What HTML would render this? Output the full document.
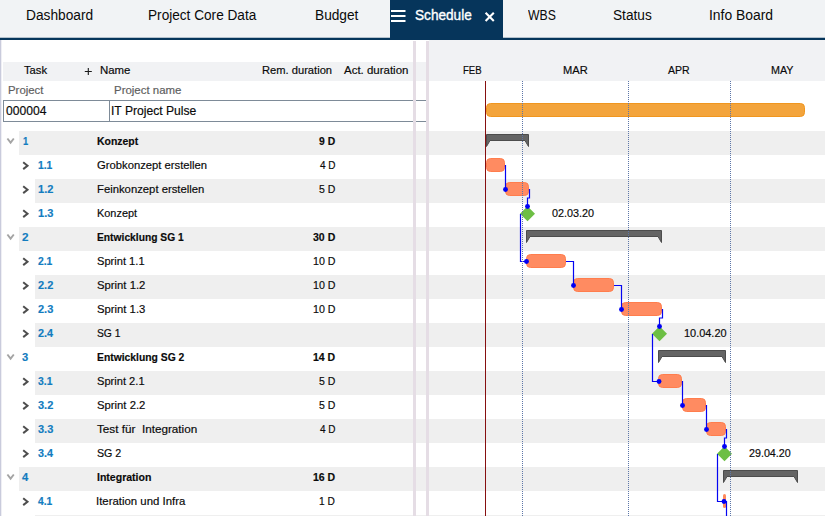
<!DOCTYPE html><html><head><meta charset="utf-8"><title>Schedule</title><style>
*{box-sizing:border-box;margin:0;padding:0}
html,body{width:825px;height:516px;overflow:hidden;background:#fff}
body{position:relative;font-family:"Liberation Sans",sans-serif;font-size:11.5px;color:#0a0a0a}
.a{position:absolute;white-space:pre}
.t{line-height:16px;transform-origin:0 0;-webkit-text-stroke:0.18px currentColor}
.tabbar{left:0;top:0;width:825px;height:38px;background:#f1f3f5}
.tabline{left:0;top:38px;width:825px;height:2px;background:#06355b}
.tabact{left:390px;top:0;width:113px;height:40px;background:#06355b}
.strip{background:#e5dde5;top:41px;height:475px}
.hdr{background:#f1f2f4}
.g{background:#efefef;height:24px}
</style></head><body>
<div class="a tabbar"></div><div class="a" style="left:0;top:37px;width:825px;height:1px;background:#b4c1cc"></div><div class="a tabline"></div><div class="a tabact"></div>
<svg class="a" style="left:390px;top:0" width="113" height="40" viewBox="0 0 113 40"><g stroke="#fff" fill="none"><path d="M1 11h14.5M1 16h14.5M1 21h14.5" stroke-width="1.9"/><path d="M95.6 12.7l8.2 8.2M103.8 12.7l-8.2 8.2" stroke-width="2.1"/></g></svg>
<div class="a" style="left:0;top:40px;width:1px;height:476px;background:#c9cbdc"></div><div class="a" style="left:1px;top:40px;width:1px;height:476px;background:#efeff4"></div>
<div class="a hdr" style="left:3px;top:62px;width:423px;height:19px"></div>
<div class="a hdr" style="left:429px;top:40px;width:396px;height:41px"></div>
<div class="a g" style="left:19px;top:131px;width:407px"></div>
<div class="a g" style="left:429px;top:131px;width:396px"></div>
<div class="a g" style="left:35px;top:179px;width:391px"></div>
<div class="a g" style="left:429px;top:179px;width:396px"></div>
<div class="a g" style="left:19px;top:227px;width:407px"></div>
<div class="a g" style="left:429px;top:227px;width:396px"></div>
<div class="a g" style="left:35px;top:275px;width:391px"></div>
<div class="a g" style="left:429px;top:275px;width:396px"></div>
<div class="a g" style="left:35px;top:323px;width:391px"></div>
<div class="a g" style="left:429px;top:323px;width:396px"></div>
<div class="a g" style="left:35px;top:371px;width:391px"></div>
<div class="a g" style="left:429px;top:371px;width:396px"></div>
<div class="a g" style="left:35px;top:419px;width:391px"></div>
<div class="a g" style="left:429px;top:419px;width:396px"></div>
<div class="a g" style="left:19px;top:467px;width:407px"></div>
<div class="a g" style="left:429px;top:467px;width:396px"></div>
<div class="a g" style="left:35px;top:515px;width:391px;height:1px"></div><div class="a g" style="left:429px;top:515px;width:396px;height:1px"></div>
<div class="a" style="left:3px;top:100px;width:423px;height:22px;border:1px solid #7e8b98;border-right:none;background:#fff"></div>
<div class="a" style="left:109px;top:100px;width:1px;height:22px;background:#7e8b98"></div>
<div class="a strip" style="left:413px;width:3px"></div><div class="a strip" style="left:426px;width:3px"></div>
<svg class="a" style="left:84px;top:67px" width="9" height="9" viewBox="0 0 9 9"><path d="M4.3 1v7M0.8 4.5h7" stroke="#1a1a1a" stroke-width="1.1" fill="none"/></svg>
<div class="a t" id="tab0" style="left:25.89px;top:8.02px;transform:scaleX(0.9939);font-size:13.8px;-webkit-text-stroke:0;">Dashboard</div>
<div class="a t" id="tab1" style="left:148.31px;top:8.02px;transform:scaleX(0.9876);font-size:13.8px;-webkit-text-stroke:0;">Project Core Data</div>
<div class="a t" id="tab2" style="left:314.89px;top:8.02px;transform:scaleX(0.9926);font-size:13.8px;-webkit-text-stroke:0;">Budget</div>
<div class="a t" id="tab3" style="left:415.10px;top:8.02px;transform:scaleX(0.9872);font-size:13.8px;color:#fff;-webkit-text-stroke:0.35px #fff;">Schedule</div>
<div class="a t" id="tab4" style="left:528.34px;top:8.02px;transform:scaleX(0.8881);font-size:13.8px;-webkit-text-stroke:0;">WBS</div>
<div class="a t" id="tab5" style="left:613.49px;top:8.02px;transform:scaleX(0.9898);font-size:13.8px;-webkit-text-stroke:0;">Status</div>
<div class="a t" id="tab6" style="left:708.80px;top:8.02px;transform:scaleX(1.0068);font-size:13.8px;-webkit-text-stroke:0;">Info Board</div>
<div class="a t" id="hTask" style="left:24.26px;top:62.02px;transform:scaleX(0.9763);">Task</div>
<div class="a t" id="hName" style="left:99.77px;top:62.02px;transform:scaleX(0.9927);">Name</div>
<div class="a t" id="hRem" style="left:261.91px;top:62.02px;transform:scaleX(0.9698);">Rem. duration</div>
<div class="a t" id="hAct" style="left:344.08px;top:62.02px;transform:scaleX(0.9976);">Act. duration</div>
<div class="a t" id="lProj" style="left:7.51px;top:82.02px;transform:scaleX(0.9896);color:#5e5e5e;">Project</div>
<div class="a t" id="lPname" style="left:113.60px;top:82.02px;transform:scaleX(0.9962);color:#5e5e5e;">Project name</div>
<div class="a t" id="vProj" style="left:6.33px;top:103.24px;transform:scaleX(0.9842);font-size:12.3px;">000004</div>
<div class="a t" id="vPname" style="left:111.27px;top:103.24px;transform:scaleX(0.9853);font-size:12.3px;">IT Project Pulse</div>
<div class="a t" id="mon0" style="left:462.79px;top:62.02px;transform:scaleX(0.8332);">FEB</div>
<div class="a t" id="mon1" style="left:562.79px;top:62.02px;transform:scaleX(0.9660);">MAR</div>
<div class="a t" id="mon2" style="left:668.04px;top:62.02px;transform:scaleX(0.9161);">APR</div>
<div class="a t" id="mon3" style="left:770.85px;top:62.02px;transform:scaleX(0.9328);">MAY</div>
<div class="a t" id="n0" style="left:22.99px;top:133.12px;transform:scaleX(0.8124);font-weight:bold;color:#127cbf;">1</div>
<div class="a t" id="r0" style="left:96.57px;top:133.12px;transform:scaleX(0.9093);font-weight:bold;">Konzept</div>
<div class="a t" id="d0" style="left:319.15px;top:133.12px;transform:scaleX(0.8998);font-weight:bold;">9 D</div>
<div class="a t" id="n1" style="left:38.13px;top:157.12px;transform:scaleX(0.8969);font-weight:bold;color:#127cbf;">1.1</div>
<div class="a t" id="r1" style="left:97.39px;top:157.12px;transform:scaleX(0.9786);">Grobkonzept erstellen</div>
<div class="a t" id="d1" style="left:319.71px;top:157.12px;transform:scaleX(0.8694);">4 D</div>
<div class="a t" id="n2" style="left:37.61px;top:181.12px;transform:scaleX(0.9611);font-weight:bold;color:#127cbf;">1.2</div>
<div class="a t" id="r2" style="left:96.79px;top:181.12px;transform:scaleX(0.9823);">Feinkonzept erstellen</div>
<div class="a t" id="d2" style="left:319.35px;top:181.12px;transform:scaleX(0.9146);">5 D</div>
<div class="a t" id="n3" style="left:37.61px;top:205.12px;transform:scaleX(0.9611);font-weight:bold;color:#127cbf;">1.3</div>
<div class="a t" id="r3" style="left:96.83px;top:205.12px;transform:scaleX(0.9506);">Konzept</div>
<div class="a t" id="n4" style="left:22.14px;top:229.12px;transform:scaleX(1.0115);font-weight:bold;color:#127cbf;">2</div>
<div class="a t" id="r4" style="left:96.93px;top:229.12px;transform:scaleX(0.8928);font-weight:bold;">Entwicklung SG 1</div>
<div class="a t" id="d4" style="left:312.96px;top:229.12px;transform:scaleX(0.9151);font-weight:bold;">30 D</div>
<div class="a t" id="n5" style="left:38.02px;top:253.12px;transform:scaleX(0.8979);font-weight:bold;color:#127cbf;">2.1</div>
<div class="a t" id="r5" style="left:96.77px;top:253.12px;transform:scaleX(0.9662);">Sprint 1.1</div>
<div class="a t" id="d5" style="left:312.93px;top:253.12px;transform:scaleX(0.9276);">10 D</div>
<div class="a t" id="n6" style="left:38.16px;top:277.12px;transform:scaleX(0.9556);font-weight:bold;color:#127cbf;">2.2</div>
<div class="a t" id="r6" style="left:96.62px;top:277.12px;transform:scaleX(0.9820);">Sprint 1.2</div>
<div class="a t" id="d6" style="left:312.93px;top:277.12px;transform:scaleX(0.9276);">10 D</div>
<div class="a t" id="n7" style="left:38.16px;top:301.12px;transform:scaleX(0.9556);font-weight:bold;color:#127cbf;">2.3</div>
<div class="a t" id="r7" style="left:96.62px;top:301.12px;transform:scaleX(0.9814);">Sprint 1.3</div>
<div class="a t" id="d7" style="left:312.93px;top:301.12px;transform:scaleX(0.9276);">10 D</div>
<div class="a t" id="n8" style="left:37.99px;top:325.12px;transform:scaleX(0.9406);font-weight:bold;color:#127cbf;">2.4</div>
<div class="a t" id="r8" style="left:96.95px;top:325.12px;transform:scaleX(0.8950);">SG 1</div>
<div class="a t" id="n9" style="left:21.80px;top:349.12px;transform:scaleX(0.9697);font-weight:bold;color:#127cbf;">3</div>
<div class="a t" id="r9" style="left:96.78px;top:349.12px;transform:scaleX(0.8995);font-weight:bold;">Entwicklung SG 2</div>
<div class="a t" id="d9" style="left:313.11px;top:349.12px;transform:scaleX(0.9146);font-weight:bold;">14 D</div>
<div class="a t" id="n10" style="left:38.11px;top:373.12px;transform:scaleX(0.8996);font-weight:bold;color:#127cbf;">3.1</div>
<div class="a t" id="r10" style="left:96.77px;top:373.12px;transform:scaleX(0.9662);">Sprint 2.1</div>
<div class="a t" id="d10" style="left:319.35px;top:373.12px;transform:scaleX(0.9146);">5 D</div>
<div class="a t" id="n11" style="left:38.22px;top:397.12px;transform:scaleX(0.9568);font-weight:bold;color:#127cbf;">3.2</div>
<div class="a t" id="r11" style="left:96.62px;top:397.12px;transform:scaleX(0.9820);">Sprint 2.2</div>
<div class="a t" id="d11" style="left:319.35px;top:397.12px;transform:scaleX(0.9146);">5 D</div>
<div class="a t" id="n12" style="left:38.22px;top:421.12px;transform:scaleX(0.9568);font-weight:bold;color:#127cbf;">3.3</div>
<div class="a t" id="r12" style="left:97.41px;top:421.12px;transform:scaleX(1.0182);">Test für  Integration</div>
<div class="a t" id="d12" style="left:319.71px;top:421.12px;transform:scaleX(0.8694);">4 D</div>
<div class="a t" id="n13" style="left:38.10px;top:445.12px;transform:scaleX(0.9352);font-weight:bold;color:#127cbf;">3.4</div>
<div class="a t" id="r13" style="left:96.54px;top:445.12px;transform:scaleX(0.9274);">SG 2</div>
<div class="a t" id="n14" style="left:21.98px;top:469.12px;transform:scaleX(0.9735);font-weight:bold;color:#127cbf;">4</div>
<div class="a t" id="r14" style="left:96.71px;top:469.12px;transform:scaleX(0.9154);font-weight:bold;">Integration</div>
<div class="a t" id="d14" style="left:313.11px;top:469.12px;transform:scaleX(0.9146);font-weight:bold;">16 D</div>
<div class="a t" id="n15" style="left:38.25px;top:493.12px;transform:scaleX(0.8922);font-weight:bold;color:#127cbf;">4.1</div>
<div class="a t" id="r15" style="left:96.41px;top:493.12px;transform:scaleX(0.9905);">Iteration und Infra</div>
<div class="a t" id="d15" style="left:319.22px;top:493.12px;transform:scaleX(0.8871);">1 D</div>
<div class="a t" id="ms0" style="left:551.55px;top:205.12px;transform:scaleX(0.9408);">02.03.20</div>
<div class="a t" id="ms1" style="left:683.94px;top:325.12px;transform:scaleX(0.9509);">10.04.20</div>
<div class="a t" id="ms2" style="left:749.34px;top:445.12px;transform:scaleX(0.9324);">29.04.20</div>
<svg class="a" style="left:5px;top:136px" width="12" height="12" viewBox="0 0 12 12"><path d="M2.4 2.5L5.6 6.6L8.8 2.5" fill="none" stroke="#a4a4a4" stroke-width="1.9"/></svg>
<svg class="a" style="left:20px;top:160px" width="12" height="12" viewBox="0 0 12 12"><path d="M3.2 2.3L7.5 5.7L3.2 9.1" fill="none" stroke="#4e4e4e" stroke-width="2"/></svg>
<svg class="a" style="left:20px;top:184px" width="12" height="12" viewBox="0 0 12 12"><path d="M3.2 2.3L7.5 5.7L3.2 9.1" fill="none" stroke="#4e4e4e" stroke-width="2"/></svg>
<svg class="a" style="left:20px;top:208px" width="12" height="12" viewBox="0 0 12 12"><path d="M3.2 2.3L7.5 5.7L3.2 9.1" fill="none" stroke="#4e4e4e" stroke-width="2"/></svg>
<svg class="a" style="left:5px;top:232px" width="12" height="12" viewBox="0 0 12 12"><path d="M2.4 2.5L5.6 6.6L8.8 2.5" fill="none" stroke="#a4a4a4" stroke-width="1.9"/></svg>
<svg class="a" style="left:20px;top:256px" width="12" height="12" viewBox="0 0 12 12"><path d="M3.2 2.3L7.5 5.7L3.2 9.1" fill="none" stroke="#4e4e4e" stroke-width="2"/></svg>
<svg class="a" style="left:20px;top:280px" width="12" height="12" viewBox="0 0 12 12"><path d="M3.2 2.3L7.5 5.7L3.2 9.1" fill="none" stroke="#4e4e4e" stroke-width="2"/></svg>
<svg class="a" style="left:20px;top:304px" width="12" height="12" viewBox="0 0 12 12"><path d="M3.2 2.3L7.5 5.7L3.2 9.1" fill="none" stroke="#4e4e4e" stroke-width="2"/></svg>
<svg class="a" style="left:20px;top:328px" width="12" height="12" viewBox="0 0 12 12"><path d="M3.2 2.3L7.5 5.7L3.2 9.1" fill="none" stroke="#4e4e4e" stroke-width="2"/></svg>
<svg class="a" style="left:5px;top:352px" width="12" height="12" viewBox="0 0 12 12"><path d="M2.4 2.5L5.6 6.6L8.8 2.5" fill="none" stroke="#a4a4a4" stroke-width="1.9"/></svg>
<svg class="a" style="left:20px;top:376px" width="12" height="12" viewBox="0 0 12 12"><path d="M3.2 2.3L7.5 5.7L3.2 9.1" fill="none" stroke="#4e4e4e" stroke-width="2"/></svg>
<svg class="a" style="left:20px;top:400px" width="12" height="12" viewBox="0 0 12 12"><path d="M3.2 2.3L7.5 5.7L3.2 9.1" fill="none" stroke="#4e4e4e" stroke-width="2"/></svg>
<svg class="a" style="left:20px;top:424px" width="12" height="12" viewBox="0 0 12 12"><path d="M3.2 2.3L7.5 5.7L3.2 9.1" fill="none" stroke="#4e4e4e" stroke-width="2"/></svg>
<svg class="a" style="left:20px;top:448px" width="12" height="12" viewBox="0 0 12 12"><path d="M3.2 2.3L7.5 5.7L3.2 9.1" fill="none" stroke="#4e4e4e" stroke-width="2"/></svg>
<svg class="a" style="left:5px;top:472px" width="12" height="12" viewBox="0 0 12 12"><path d="M2.4 2.5L5.6 6.6L8.8 2.5" fill="none" stroke="#a4a4a4" stroke-width="1.9"/></svg>
<svg class="a" style="left:20px;top:496px" width="12" height="12" viewBox="0 0 12 12"><path d="M3.2 2.3L7.5 5.7L3.2 9.1" fill="none" stroke="#4e4e4e" stroke-width="2"/></svg>
<svg class="a" style="left:0;top:0" width="825" height="516" viewBox="0 0 825 516"><rect x="485" y="81" width="1" height="435" fill="#860f10"/><rect x="486.5" y="103.5" width="318" height="13" rx="4" fill="#f3a43c" stroke="#f0961f" stroke-width="1"/><path d="M486.5 134.5H528.5V146.5L525 140.5H490L486.5 146.5Z" fill="#646464" stroke="#4c4c4c" stroke-width="1" stroke-linejoin="miter"/><path d="M526.5 230.5H661.5V242.5L658 236.5H530L526.5 242.5Z" fill="#646464" stroke="#4c4c4c" stroke-width="1" stroke-linejoin="miter"/><path d="M658.5 350.5H725.5V362.5L722 356.5H662L658.5 362.5Z" fill="#646464" stroke="#4c4c4c" stroke-width="1" stroke-linejoin="miter"/><path d="M723.5 470.5H797.5V482.5L794 476.5H727L723.5 482.5Z" fill="#646464" stroke="#4c4c4c" stroke-width="1" stroke-linejoin="miter"/><rect x="486.5" y="158.5" width="18" height="13" rx="4" fill="#ff8b61" stroke="#ff7d4d" stroke-width="1"/><rect x="505.5" y="182.5" width="23" height="13" rx="4" fill="#ff8b61" stroke="#ff7d4d" stroke-width="1"/><rect x="526.5" y="254.5" width="39" height="13" rx="4" fill="#ff8b61" stroke="#ff7d4d" stroke-width="1"/><rect x="573.5" y="278.5" width="40" height="13" rx="4" fill="#ff8b61" stroke="#ff7d4d" stroke-width="1"/><rect x="621.5" y="302.5" width="40" height="13" rx="4" fill="#ff8b61" stroke="#ff7d4d" stroke-width="1"/><rect x="658.5" y="374.5" width="23" height="13" rx="4" fill="#ff8b61" stroke="#ff7d4d" stroke-width="1"/><rect x="682.5" y="398.5" width="23" height="13" rx="4" fill="#ff8b61" stroke="#ff7d4d" stroke-width="1"/><rect x="706.5" y="422.5" width="19" height="13" rx="4" fill="#ff8b61" stroke="#ff7d4d" stroke-width="1"/><rect x="723" y="494" width="3" height="14" rx="1.5" fill="#ff8a5c"/><path d="M527.5 206.3L535.0 213.8L527.5 221.3L520.0 213.8Z" fill="#6dbf44"/><path d="M659.5 326.3L667.0 333.8L659.5 341.3L652.0 333.8Z" fill="#6dbf44"/><path d="M724.5 446.3L732.0 453.8L724.5 461.3L717.0 453.8Z" fill="#6dbf44"/><path d="M505.5 165V189.5" fill="none" stroke="#0505f2" stroke-width="1.2"/><circle cx="505.5" cy="189.5" r="2.45" fill="#0000f5"/><path d="M529.5 189V198H527.5V206.5" fill="none" stroke="#0505f2" stroke-width="1.2"/><circle cx="527.5" cy="206.5" r="2.45" fill="#0000f5"/><path d="M520.5 214V261.5H526.5" fill="none" stroke="#0505f2" stroke-width="1.2"/><circle cx="526.5" cy="261.5" r="2.45" fill="#0000f5"/><path d="M566 261.5H573.5V285.5" fill="none" stroke="#0505f2" stroke-width="1.2"/><circle cx="573.5" cy="285.5" r="2.45" fill="#0000f5"/><path d="M614 285.5H621.5V309.5" fill="none" stroke="#0505f2" stroke-width="1.2"/><circle cx="621.5" cy="309.5" r="2.45" fill="#0000f5"/><path d="M662.5 309V318H659.5V326.5" fill="none" stroke="#0505f2" stroke-width="1.2"/><circle cx="659.5" cy="326.5" r="2.45" fill="#0000f5"/><path d="M652.5 334V381.5H659" fill="none" stroke="#0505f2" stroke-width="1.2"/><circle cx="659" cy="381.5" r="2.45" fill="#0000f5"/><path d="M682.5 381V405.5" fill="none" stroke="#0505f2" stroke-width="1.2"/><circle cx="682.5" cy="405.5" r="2.45" fill="#0000f5"/><path d="M706.5 405V429.5" fill="none" stroke="#0505f2" stroke-width="1.2"/><circle cx="706.5" cy="429.5" r="2.45" fill="#0000f5"/><path d="M726.5 429V438H724.5V446.5" fill="none" stroke="#0505f2" stroke-width="1.2"/><circle cx="724.5" cy="446.5" r="2.45" fill="#0000f5"/><path d="M717.5 454V501.5H724" fill="none" stroke="#0505f2" stroke-width="1.2"/><circle cx="724" cy="501.5" r="2.45" fill="#0000f5"/><path d="M726.5 501V516" fill="none" stroke="#0505f2" stroke-width="1.2"/><path d="M522.5 81V516" stroke="#5d76a8" stroke-width="1" stroke-dasharray="1 1" shape-rendering="crispEdges"/><path d="M628.5 81V516" stroke="#5d76a8" stroke-width="1" stroke-dasharray="1 1" shape-rendering="crispEdges"/><path d="M730.5 81V516" stroke="#5d76a8" stroke-width="1" stroke-dasharray="1 1" shape-rendering="crispEdges"/></svg>
</body></html>
